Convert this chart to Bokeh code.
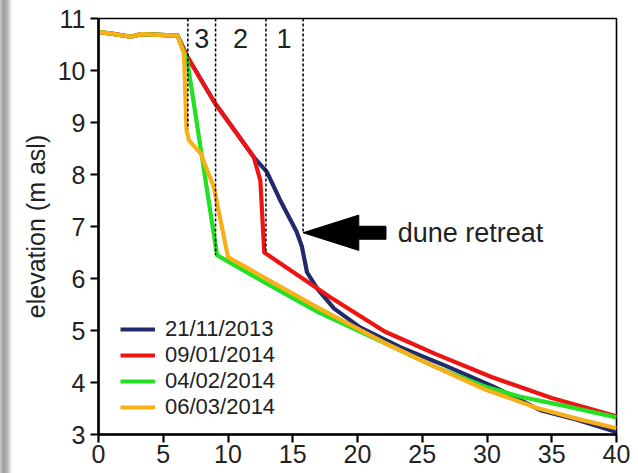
from bokeh.plotting import figure
from bokeh.models import Range1d, FixedTicker, Legend, LegendItem, Div
from bokeh.layouts import row
from bokeh.core.properties import value
from bokeh.embed import file_html
from bokeh.resources import INLINE

# Beach/dune cross-shore profiles: distance (m) vs elevation (m asl)
x_nov13 = [0, 1, 2.5, 3.3, 6.1, 6.85, 9.0, 12.0, 13.0, 14.0, 15.3, 15.7, 16.1, 16.9, 18.2, 20.2, 23.3, 27.0, 30.5, 34.2, 37.0, 40.0]
y_nov13 = [10.74, 10.71, 10.65, 10.70, 10.67, 10.27, 9.37, 8.33, 8.05, 7.52, 6.90, 6.62, 6.12, 5.80, 5.42, 5.06, 4.68, 4.30, 3.92, 3.46, 3.28, 3.05]

x_jan14 = [0, 1, 2.5, 3.3, 6.1, 6.85, 9.0, 12.0, 12.5, 12.8, 17.9, 22.1, 26.0, 30.4, 35.0, 40.0]
y_jan14 = [10.74, 10.71, 10.65, 10.70, 10.67, 10.27, 9.37, 8.33, 7.88, 6.50, 5.64, 4.98, 4.55, 4.10, 3.70, 3.35]

x_feb14 = [0, 1, 2.5, 3.3, 6.1, 6.85, 9.15, 13.0, 17.0, 22.1, 26.0, 29.9, 32.5, 36.0, 40.0]
y_feb14 = [10.74, 10.71, 10.65, 10.70, 10.67, 10.20, 6.45, 5.90, 5.35, 4.76, 4.30, 3.92, 3.73, 3.55, 3.33]

x_mar14 = [0, 1, 2.5, 3.3, 6.1, 6.6, 6.8, 7.0, 7.9, 8.9, 10.0, 17.0, 22.1, 26.0, 29.9, 34.0, 37.0, 40.0]
y_mar14 = [10.74, 10.71, 10.65, 10.70, 10.67, 10.32, 8.85, 8.65, 8.40, 7.76, 6.41, 5.43, 4.76, 4.30, 3.86, 3.50, 3.30, 3.12]

series_labels = ["21/11/2013", "09/01/2014", "04/02/2014", "06/03/2014"]
series_colors = ["#232a6c", "#ee1414", "#22e022", "#f8b018"]

# Erosion sectors (numbered 3, 2, 1 landward to seaward) and their limits
sector_x = [6.9, 9.04, 12.93, 15.8]
sector_bottom = [8.88, 6.45, 6.50, 6.88]
sector_names = ["3", "2", "1"]
sector_label_x = [7.97, 10.97, 14.32]
sector_label_y = 10.62

arrow_tip = (15.8, 6.88)

font = "Liberation Sans"
text_color = "#222222"
strip_w = 12

p = figure(width=638 - strip_w, height=473, output_backend="svg", toolbar_location=None,
           x_range=Range1d(0, 40), y_range=Range1d(3, 11),
           min_border_left=98 - strip_w, min_border_right=22, min_border_top=18, min_border_bottom=39)
p.xgrid.visible = False
p.ygrid.visible = False
p.background_fill_color = "white"
p.border_fill_color = "white"
p.outline_line_color = "black"
p.outline_line_width = 1.6

for ax in (p.xaxis[0], p.yaxis[0]):
    ax.axis_line_width = 2.6
    ax.axis_line_color = "black"
    ax.major_tick_line_width = 2.2
    ax.major_tick_line_color = "black"
    ax.major_tick_in = 0
    ax.major_tick_out = 8
    ax.minor_tick_line_color = None
    ax.major_label_text_font = font
    ax.major_label_text_font_size = "25px"
    ax.major_label_text_color = text_color

p.xaxis.ticker = FixedTicker(ticks=[0, 5, 10, 15, 20, 25, 30, 35, 40])
p.yaxis.ticker = FixedTicker(ticks=[3, 4, 5, 6, 7, 8, 9, 10, 11])
p.xaxis.major_label_standoff = 2
p.yaxis.major_label_standoff = 5
p.yaxis.axis_label = "elevation (m asl)"
p.yaxis.axis_label_text_font = font
p.yaxis.axis_label_text_font_size = "25px"
p.yaxis.axis_label_text_font_style = "normal"
p.yaxis.axis_label_text_color = text_color
p.yaxis.axis_label_standoff = 5

# Profiles
items = []
for xs, ys, lab, col in zip([x_nov13, x_jan14, x_feb14, x_mar14],
                            [y_nov13, y_jan14, y_feb14, y_mar14],
                            series_labels, series_colors):
    r = p.line(xs, ys, line_color=col, line_width=4.2, line_join="round")
    items.append(LegendItem(label=lab, renderers=[r]))

# Sector limits
p.segment(x0=sector_x, y0=[11] * 4, x1=sector_x, y1=sector_bottom,
          line_color="black", line_width=1.5, line_dash="3 2")
p.text(x=sector_label_x, y=[sector_label_y] * 3, text=sector_names,
       text_font=value(font), text_font_size="27px", text_color=text_color,
       text_align="center", text_baseline="middle")

# Dune retreat arrow (head length ~4.3 m, shaft to ~6.4 m from the tip)
tx, ty = arrow_tip
p.patch(x=[tx, tx + 4.3, tx + 4.3, tx + 6.4, tx + 6.4, tx + 4.3, tx + 4.3],
        y=[ty, ty + 0.34, ty + 0.125, ty + 0.125, ty - 0.125, ty - 0.125, ty - 0.34],
        fill_color="black", line_color="black", line_width=1)
p.text(x=[tx + 7.3], y=[ty], text=["dune retreat"], text_font=value(font),
       text_font_size="27px", text_color=text_color, text_baseline="middle")

legend = Legend(items=items, location=(22, 14), orientation="vertical",
                padding=0, spacing=0, margin=0,
                glyph_width=35, glyph_height=26, label_height=26, label_standoff=10,
                label_text_font=font, label_text_font_size="22px", label_text_color=text_color,
                background_fill_alpha=0, border_line_color=None)
p.add_layout(legend)

# Grey shaded strip along the left edge
strip = Div(text="", width=strip_w, height=473, margin=0,
            styles={"background": "linear-gradient(to right, #c8c8c8 0%, #9c9c9c 30%, "
                                  "#b4b4b4 60%, #e2e2e2 85%, #ffffff 100%)"})

layout = row(strip, p, spacing=0)
open("out.html", "w").write(file_html(layout, INLINE))
